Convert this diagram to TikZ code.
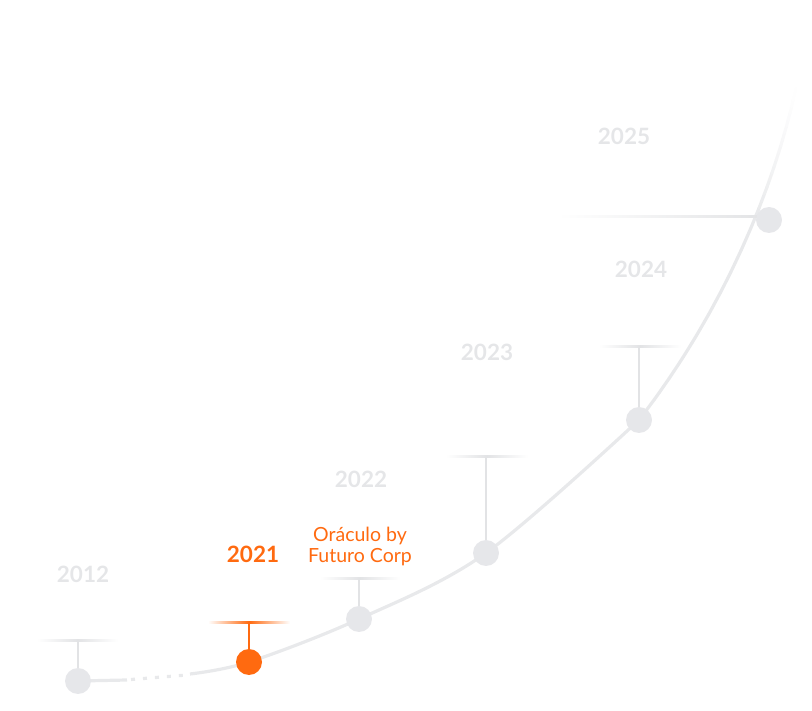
\documentclass[tikz,border=0pt]{standalone}
\usepackage{fontspec}
\setmainfont{Lato}
\definecolor{lg}{HTML}{E5E6E8}
\definecolor{dotg}{HTML}{E6E7EA}
\definecolor{curveg}{HTML}{E8E9EB}
\definecolor{stemg}{HTML}{E2E3E5}
\definecolor{org}{HTML}{FF6A10}
\begin{document}
\begin{tikzpicture}[x=1pt,y=-1pt,
  year/.style={font=\bfseries\fontsize{22.5}{25}\selectfont, text=lg, anchor=base, inner sep=0},
  dotnode/.style={circle, fill=dotg, minimum size=26pt, inner sep=0},
  curveline/.style={draw=curveg, line width=3.2pt},
  stemline/.style={draw=stemg, line width=1.2pt},
  oratext/.style={anchor=base, inner sep=0, text=org, font=\fontsize{19.5}{21}\selectfont}]
\useasboundingbox (0,0) rectangle (812,711);
\coordinate (c12) at (78,681);
\coordinate (c21) at (249,662);
\coordinate (c22) at (359,619);
\coordinate (c23) at (486,553);
\coordinate (c24) at (639,420);
\coordinate (c25) at (769,220);
\coordinate (cA) at (127,680);
\coordinate (cB) at (131,679.5);
\coordinate (cC) at (187,675);
\coordinate (cD) at (190,674);
% curve
\draw[curveline] (c12) -- (cA);
\draw[curveline, dash pattern=on 4pt off 8pt] (cB) -- (cC);
\draw[curveline] plot[smooth, tension=0.55] coordinates {(cD) (c21) (c22) (c23) (c24)};
% upper part of the curve, fading out at the top
\foreach \k in {0,...,47} {
  \pgfmathsetmacro{\ta}{\k/48}
  \pgfmathsetmacro{\tb}{(\k+1)/48}
  \pgfmathsetmacro{\xa}{(1-\ta)^3*639+3*(1-\ta)^2*\ta*724+3*(1-\ta)*\ta^2*774+\ta^3*796}
  \pgfmathsetmacro{\ya}{(1-\ta)^3*420+3*(1-\ta)^2*\ta*310+3*(1-\ta)*\ta^2*188+\ta^3*88}
  \pgfmathsetmacro{\xb}{(1-\tb)^3*639+3*(1-\tb)^2*\tb*724+3*(1-\tb)*\tb^2*774+\tb^3*796}
  \pgfmathsetmacro{\yb}{(1-\tb)^3*420+3*(1-\tb)^2*\tb*310+3*(1-\tb)*\tb^2*188+\tb^3*88}
  \pgfmathsetmacro{\pp}{\ta<0.58 ? 1 : ((1-\ta)/0.42)^1.4}
  \pgfmathtruncatemacro{\rr}{255-23*\pp}
  \pgfmathtruncatemacro{\gv}{255-22*\pp}
  \pgfmathtruncatemacro{\bv}{255-20*\pp}
  \definecolor{segc}{RGB}{\rr,\gv,\bv}
  \draw[draw=segc, line width=3.2pt, line cap=round] (\xa,\ya) -- (\xb,\yb);
}
% horizontal fading bars
\shade[left color=white, right color=white, middle color=stemg] (37,639.5) rectangle (118,641.5);
\shade[left color=white, right color=white, middle color=org] (208,621) rectangle (290,623);
\shade[left color=white, right color=white, middle color=stemg] (320,577.5) rectangle (400,579.5);
\shade[left color=white, right color=white, middle color=stemg] (446,456) rectangle (528,458);
\shade[left color=white, right color=white, middle color=stemg] (599,346) rectangle (681,348);
\shade[left color=white, right color=stemg] (558,216) rectangle (766,218);
% stem tops
\coordinate (s12) at (78,640.5);
\coordinate (s21) at (249,622);
\coordinate (s22) at (359,578.5);
\coordinate (s23) at (486,457);
\coordinate (s24) at (639,347);
% dots
\node[dotnode] (d12) at (c12) {};
\node[dotnode, fill=org] (d21) at (c21) {};
\node[dotnode] (d22) at (c22) {};
\node[dotnode] (d23) at (c23) {};
\node[dotnode] (d24) at (c24) {};
\node[dotnode] (d25) at (c25) {};
% stems
\draw[stemline] (s12) -- (d12);
\draw[draw=org, line width=1.4pt] (s21) -- (d21);
\draw[stemline] (s22) -- (d22);
\draw[stemline] (s23) -- (d23);
\draw[stemline] (s24) -- (d24);
% labels
\node[year] (y12) at (83,582) {2012};
\node[year, text=org] (y21) at (253,562) {2021};
\node[year] (y22) at (361,488) {2022};
\node[year] (y23) at (487,361) {2023};
\node[year] (y24) at (641,278) {2024};
\node[year] (y25) at (624,145) {2025};
\node[oratext] (ora) at (360,541) {Oráculo by};
\node[oratext] (fut) at (360,562) {Futuro Corp};
\end{tikzpicture}
\end{document}
